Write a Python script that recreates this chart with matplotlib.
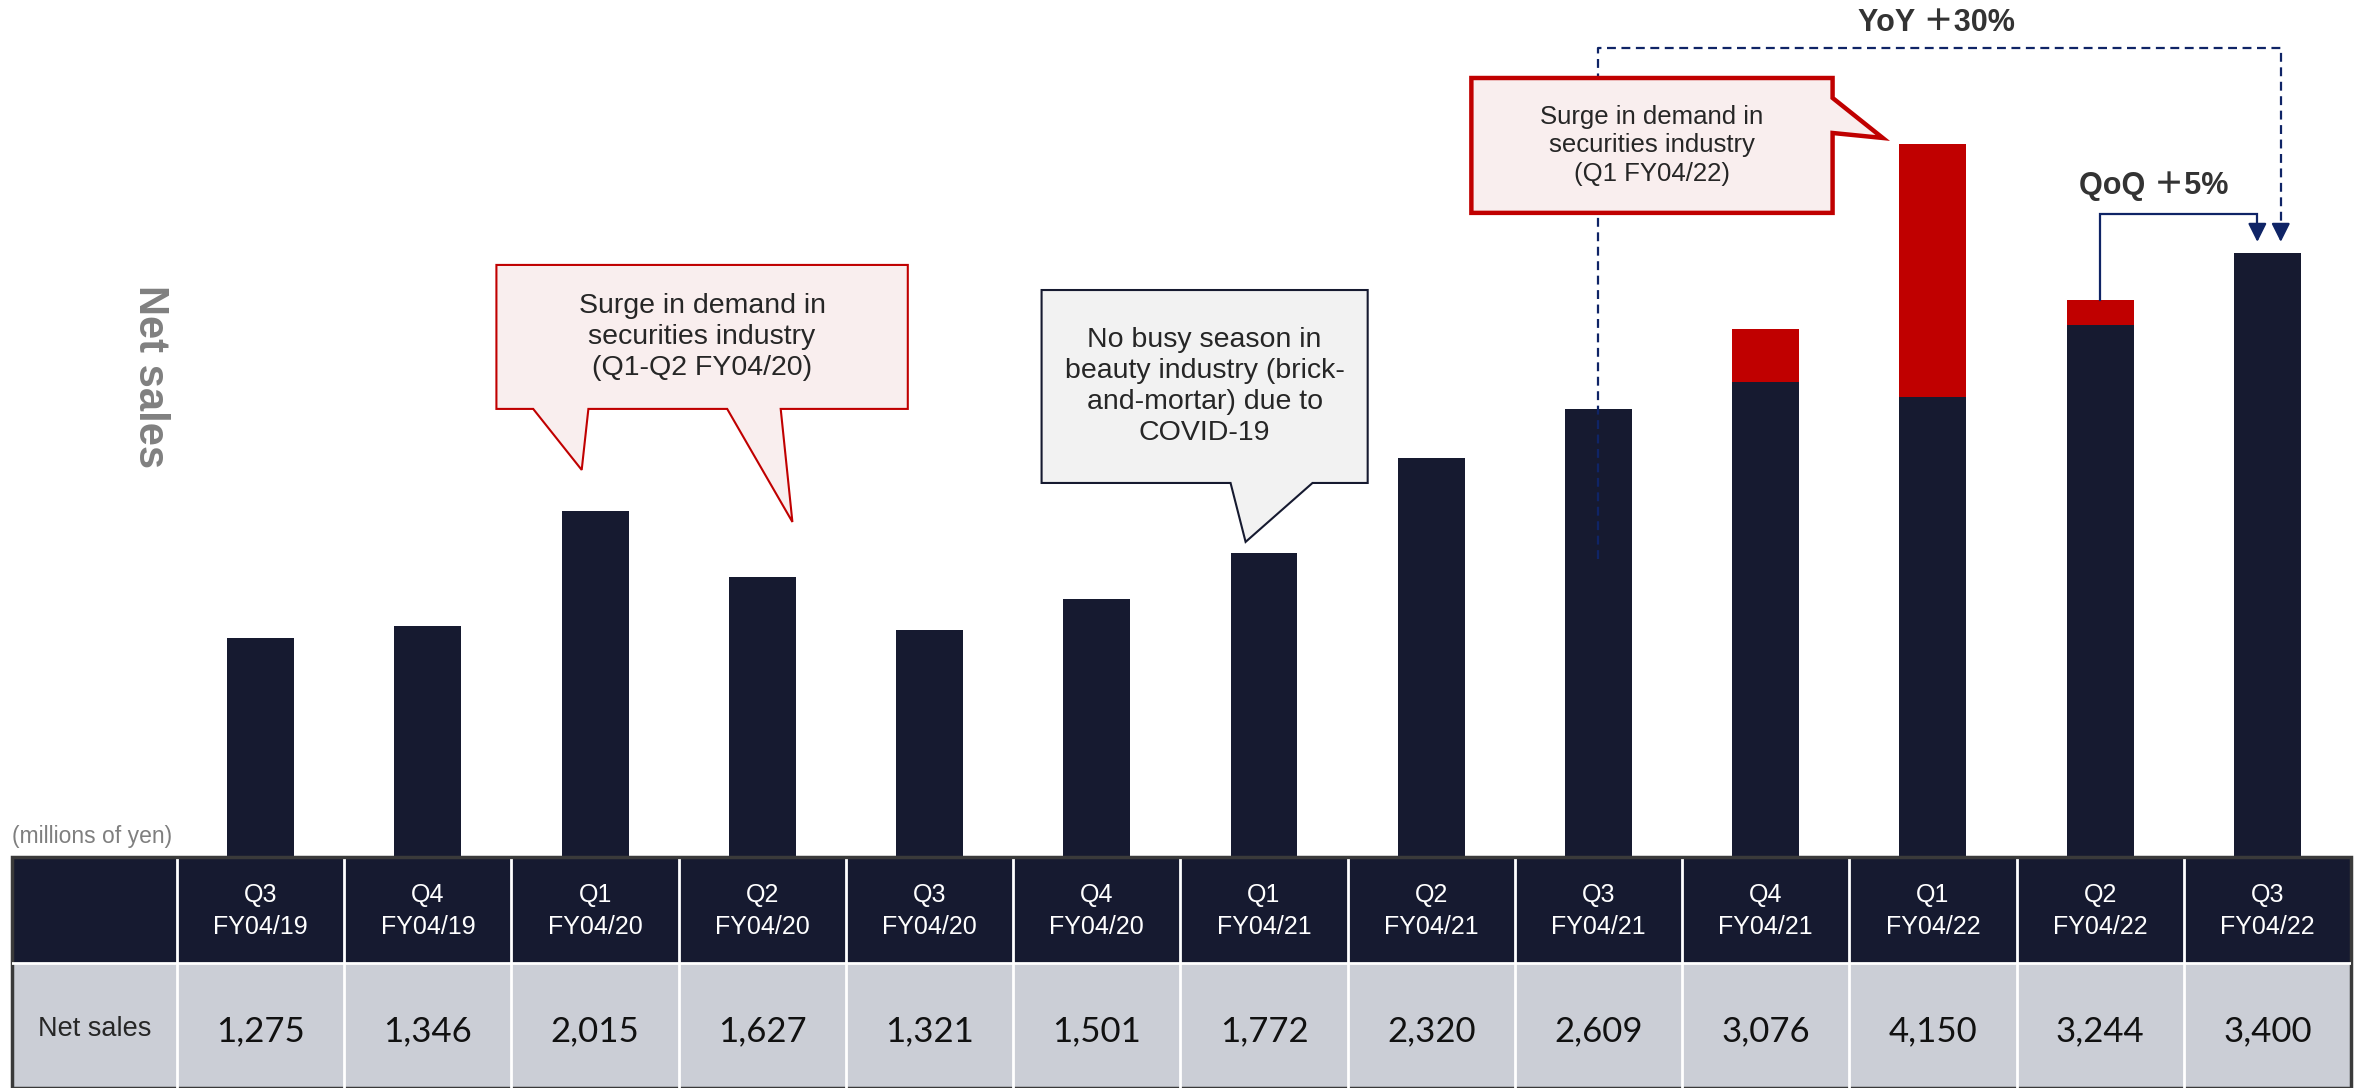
import numpy as np
import matplotlib as mpl
import matplotlib.pyplot as plt
import matplotlib.patches as ptc

plt.rcParams['font.family'] = ['Liberation Sans', 'DejaVu Sans']

# table content
periods = ["Q3\nFY04/19", "Q4\nFY04/19", "Q1\nFY04/20", "Q2\nFY04/20", "Q3\nFY04/20",
           "Q4\nFY04/20", "Q1\nFY04/21", "Q2\nFY04/21", "Q3\nFY04/21", "Q4\nFY04/21",
           "Q1\nFY04/22", "Q2\nFY04/22", "Q3\nFY04/22"]
net_sales = [1275, 1346, 2015, 1627, 1321, 1501, 1772, 2320, 2609, 3076, 4150, 3244, 3400]

# bar heights as drawn (navy base + red surge part)
bar_core = [1275, 1346, 2015, 1627, 1321, 1501, 1772, 2320, 2609, 2767, 2678, 3098, 3516]
bar_surge = [0, 0, 0, 0, 0, 0, 0, 0, 0, 309, 1472, 146, 0]

yoy_label = "YoY \uff0b30%"
qoq_label = "QoQ \uff0b5%"

NAVY = "#161a30"
RED = "#c00000"
ARROW = "#0f2466"
W, H = 2358, 1088


def callout(ax, verts, text, fc, ec, lw, size):
    poly = ptc.Polygon(verts, closed=True, fc=fc, ec=ec, lw=lw, zorder=5,
                       joinstyle="miter")
    ax.add_patch(poly)
    # box is the first 2 + last vertex; text in its centre
    x0, x1 = verts[0][0], verts[1][0]
    y0, y1 = verts[-1][1], verts[0][1]
    ax.text((x0 + x1) / 2, (y0 + y1) / 2, text, ha="center", va="center",
            fontsize=size, color="#262626", zorder=6, linespacing=1.25)


def arrow_path(ax, pts, ls, lw=1.6):
    xs, ys = zip(*pts)
    ax.plot(xs[:-1] + (xs[-1],), ys[:-1] + (ys[-1] + 90,), color=ARROW, lw=lw,
            ls=ls, zorder=4, solid_joinstyle="miter")
    ax.annotate("", xy=pts[-1], xytext=(pts[-1][0], pts[-1][1] + 100),
                arrowprops=dict(arrowstyle="-|>", color=ARROW, lw=lw,
                                mutation_scale=28, shrinkA=0, shrinkB=0),
                zorder=4)


fig = plt.figure(figsize=(W / 100, H / 100), dpi=100)

# bar area: columns line up with the table below
left, right, base = 177, 2351, 857
ax = fig.add_axes([left / W, (H - base) / H, (right - left) / W, base / H])
x = np.arange(len(periods))
ax.bar(x, bar_core, width=0.4, color=NAVY, zorder=2)
ax.bar(x, bar_surge, width=0.4, bottom=bar_core, color=RED, zorder=2)
ax.set_xlim(-0.5, len(periods) - 0.5)
ax.set_ylim(0, 4988)
ax.set_axis_off()

# callouts
callout(ax, [(1.41, 3446), (3.87, 3446), (3.87, 2608), (3.11, 2608), (3.18, 1950),
             (2.79, 2608), (1.96, 2608), (1.92, 2253), (1.63, 2608), (1.41, 2608)],
        "Surge in demand in\nsecurities industry\n(Q1-Q2 FY04/20)",
        "#f9eeee", RED, 1.5, 20.5)
callout(ax, [(4.67, 3300), (6.62, 3300), (6.62, 2177), (6.29, 2177), (5.89, 1834),
             (5.80, 2177), (4.67, 2177)],
        "No busy season in\nbeauty industry (brick-\nand-mortar) due to\nCOVID-19",
        "#f2f2f2", NAVY, 1.5, 20.5)
callout(ax, [(7.24, 4534), (9.40, 4534), (9.40, 4418), (9.70, 4185), (9.40, 4214),
             (9.40, 3749), (7.24, 3749)],
        "Surge in demand in\nsecurities industry\n(Q1 FY04/22)",
        "#f9eeee", RED, 3.2, 18.5)

# YoY / QoQ connectors
arrow_path(ax, [(8, 1735), (8, 4709), (12.08, 4709), (12.08, 3580)], (0, (4, 2.5)))
arrow_path(ax, [(11.0, bar_core[11] + bar_surge[11]), (11.0, 3743), (11.94, 3743),
                (11.94, 3580)], "-")
ax.text(10.02, 4854, yoy_label, ha="center", va="center", fontsize=22,
        fontweight="bold", color="#333333",
        family=["Liberation Sans", "Noto Sans CJK JP"])
ax.text(11.32, 3906, qoq_label, ha="center", va="center", fontsize=22,
        fontweight="bold", color="#333333",
        family=["Liberation Sans", "Noto Sans CJK JP"])

fig.text(150 / W, 1 - 377 / H, "Net sales", rotation=270, ha="center", va="center",
         fontsize=30, fontweight="bold", color="#808080")
fig.text(12 / W, 1 - 836 / H, "(millions of yen)", ha="left", va="center",
         fontsize=16.5, color="#7f7f7f")

# table
tax = fig.add_axes([12 / W, 0, (right - 12) / W, (H - base) / H])
x_lo = -0.5 - (left - 12) / ((right - left) / len(periods))
tax.set_xlim(x_lo, len(periods) - 0.5)
tax.set_ylim(0, 1)
tax.set_axis_off()
split = (H - 963) / (H - base)
tax.add_patch(ptc.Rectangle((x_lo, split), len(periods) - 0.5 - x_lo, 1 - split,
                            fc=NAVY, ec="none"))
tax.add_patch(ptc.Rectangle((x_lo, 0), len(periods) - 0.5 - x_lo, split,
                            fc="#cbced6", ec="none"))
for xv in np.arange(-0.5, len(periods) - 1):
    tax.plot([xv, xv], [0, 0.985], color="white", lw=2)
tax.plot([x_lo, len(periods) - 0.5], [split, split], color="white", lw=2)
tax.add_patch(ptc.Rectangle((x_lo, 0), len(periods) - 0.5 - x_lo, 1,
                            fc="none", ec="#3a3a3a", lw=2.5, clip_on=False))

for xi, lab, val in zip(x, periods, net_sales):
    tax.text(xi, (1 + split) / 2 - 0.005, lab, ha="center", va="center",
             fontsize=18, color="white", linespacing=1.4)
    tax.text(xi, 0.245, f"{val:,}", ha="center", va="center", fontsize=25,
             color="#111111", family=["Lato", "DejaVu Sans"])
tax.text((x_lo - 0.5) / 2, 0.255, "Net sales", ha="center", va="center",
         fontsize=19.5, color="#262626")

fig.savefig("out.png", dpi=100)
